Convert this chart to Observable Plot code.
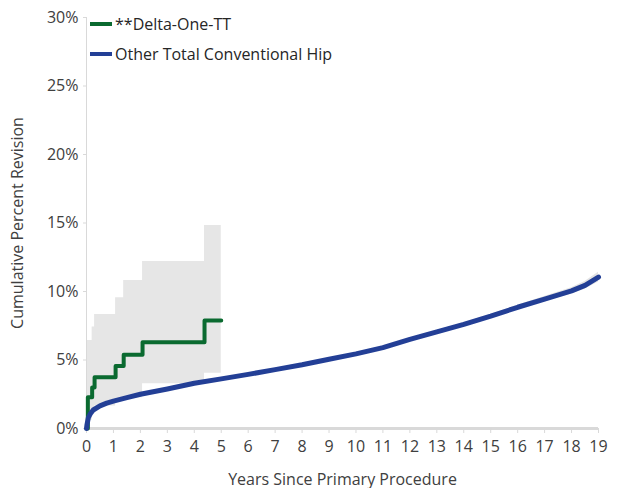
<!DOCTYPE html>
<html><head><meta charset="utf-8">
<script src="https://cdn.jsdelivr.net/npm/d3@7"></script>
<script src="https://cdn.jsdelivr.net/npm/@observablehq/plot@0.6"></script>
<style>
body{margin:0;background:#fff;font-family:"Open Sans",sans-serif;}
#wrap{position:relative;width:620px;height:488px;}
.legend{position:absolute;left:90px;top:13px;font-size:16px;color:#262626;line-height:22px;}
.legend div{display:flex;align-items:center;height:22px;margin-bottom:8px;}
.legend span.sw{display:inline-block;width:22px;height:4px;margin-right:3px;}
</style></head>
<body><div id="wrap"></div>
<script>
// **Delta-One-TT (step function)
const deltaYears = [0, 0.05, 0.21, 0.3, 1.08, 1.38, 2.08, 4.38, 5.0];
const deltaRev   = [0, 2.28, 3.0, 3.75, 4.57, 5.38, 6.3, 7.88, 7.88];
const deltaLower = [0, 0.6, 1.25, 1.65, 2.05, 2.25, 3.26, 4.04, 4.04];
const deltaUpper = [6.42, 6.42, 7.4, 8.32, 9.54, 10.8, 12.19, 14.82, 14.82];
// Other Total Conventional Hip
const otherYears = [0, 0.02, 0.07, 0.15, 0.25, 0.5, 0.75, 1, 1.5, 2, 3, 4, 5, 6, 7, 8, 9, 10, 11, 12, 13, 14, 15, 16, 17, 18, 18.5, 19];
const otherRev   = [0, 0.3, 0.8, 1.1, 1.35, 1.65, 1.85, 2.0, 2.25, 2.5, 2.88, 3.3, 3.62, 3.95, 4.3, 4.65, 5.05, 5.45, 5.9, 6.5, 7.05, 7.6, 8.2, 8.85, 9.45, 10.05, 10.45, 11.05];
const otherLower = [0, 0.28, 0.77, 1.07, 1.32, 1.62, 1.82, 1.97, 2.22, 2.47, 2.85, 3.27, 3.58, 3.91, 4.26, 4.6, 5.0, 5.4, 5.84, 6.43, 6.97, 7.5, 8.08, 8.7, 9.27, 9.82, 10.17, 10.7];
const otherUpper = [0, 0.32, 0.83, 1.13, 1.38, 1.68, 1.88, 2.03, 2.28, 2.53, 2.91, 3.33, 3.66, 3.99, 4.34, 4.7, 5.1, 5.5, 5.96, 6.57, 7.13, 7.7, 8.32, 9.0, 9.63, 10.28, 10.73, 11.4];
const xTicks = [0,1,2,3,4,5,6,7,8,9,10,11,12,13,14,15,16,17,18,19];
const yTicks = [0,5,10,15,20,25,30];
const seriesNames = ["**Delta-One-TT", "Other Total Conventional Hip"];
const seriesColors = ["#0a6a30", "#233f96"];

const delta = deltaYears.map((t,i)=>({t, y: deltaRev[i], lo: deltaLower[i], hi: deltaUpper[i]}));
const other = otherYears.map((t,i)=>({t, y: otherRev[i], lo: otherLower[i], hi: otherUpper[i]}));

const chart = Plot.plot({
  width: 620, height: 488,
  marginLeft: 86, marginRight: 22, marginTop: 17, marginBottom: 60,
  style: {fontFamily: '"Open Sans", sans-serif', fontSize: "16px", color: "#404040", background: "#fff"},
  x: {domain: [0, 19]},
  y: {domain: [0, 30]},
  marks: [
    Plot.areaY(delta, {x: "t", y1: "lo", y2: "hi", curve: "step-after", fill: "#e6e6e6"}),
    Plot.areaY(other, {x: "t", y1: "lo", y2: "hi", fill: "#e3e3e3"}),
    Plot.ruleX([0], {stroke: "#d9d9d9", strokeWidth: 1}),
    Plot.ruleY([0], {stroke: "#d9d9d9", strokeWidth: 3}),
    Plot.axisX({ticks: xTicks, tickSize: 5, tickPadding: 7, stroke: "#d9d9d9", tickFormat: d => String(d),
      label: "Years Since Primary Procedure", labelAnchor: "center", labelOffset: 56, labelArrow: "none", color: "#404040"}),
    Plot.axisY({ticks: yTicks, tickSize: 3, tickPadding: 5, stroke: "#d9d9d9", tickFormat: d => d + "%",
      label: "Cumulative Percent Revision", labelAnchor: "center", labelOffset: 75, labelArrow: "none"}),
    Plot.lineY(delta, {x: "t", y: "y", curve: "step-after", stroke: seriesColors[0], strokeWidth: 4}),
    Plot.lineY(other, {x: "t", y: "y", stroke: seriesColors[1], strokeWidth: 5, strokeLinecap: "round"})
  ]
});
const wrap = document.getElementById("wrap");
wrap.appendChild(chart);
const leg = document.createElement("div");
leg.className = "legend";
seriesNames.forEach((n,i)=>{
  const row = document.createElement("div");
  const sw = document.createElement("span");
  sw.className = "sw"; sw.style.background = seriesColors[i];
  row.appendChild(sw);
  row.appendChild(document.createTextNode(n));
  leg.appendChild(row);
});
wrap.appendChild(leg);
</script>
</body></html>
